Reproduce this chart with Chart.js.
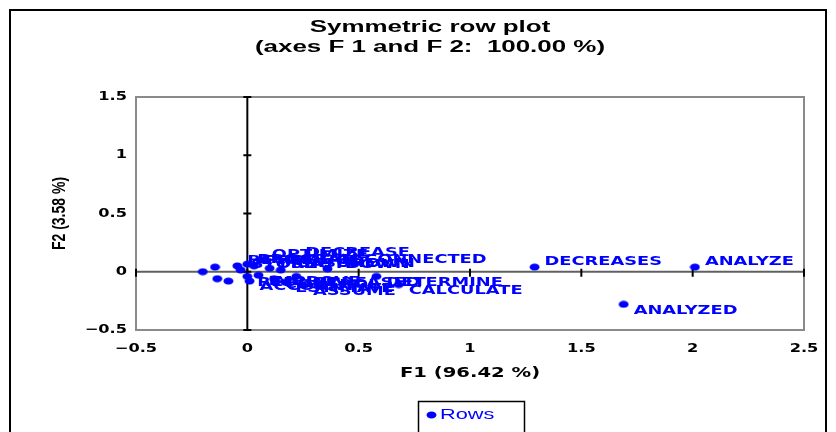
<!DOCTYPE html>
<html lang="en">
<head>
  <meta charset="UTF-8">
  <title>Symmetric row plot</title>
  <script src="https://cdn.jsdelivr.net/npm/chart.js"></script>
  <style>
    body { margin: 0; background: #fff; }
    .chart-container { width: 836px; height: 432px; }
  </style>
</head>
<body>
  <div class="chart-container">
    <canvas id="rowPlot"></canvas>
  </div>

  <script>
    // row labels and coordinates (F1, F2)
    const rowLabels = [
      'ANALYZE', 'ANALYZED', 'DECREASES', 'CALCULATE', 'DETERMINE', 'ASSUME',
      'CONNECTED', 'DECREASE', 'OPTIMIZE', 'SHUTDOWN', 'SHOWN', 'BECOME',
      'STORE', 'PROGRAM', 'REDUCE', 'ACCOUNT', 'INCREASED', 'IMPROVE',
      'PRODUCE', 'MEASURE', 'CONTROL', 'ESTIMATE', '', '', '', ''
    ];
    const f1Values = [
      2.01, 1.69, 1.29, 0.68, 0.58, 0.25,
      0.48, 0.215, 0.065, 0.15, 0.36, -0.045,
      -0.03, 0.0, 0.0, 0.01, 0.22, 0.05,
      0.03, 0.10, 0.12, 0.17, -0.20, -0.145, -0.135, -0.085
    ];
    const f2Values = [
      0.04, -0.28, 0.04, -0.11, -0.04, -0.115,
      0.065, 0.12, 0.10, 0.015, 0.025, 0.05,
      0.015, 0.065, -0.04, -0.08, -0.04, -0.03,
      0.05, 0.03, -0.06, -0.09, 0.0, 0.04, -0.06, -0.08
    ];
    const xTicks = [-0.5, 0, 0.5, 1, 1.5, 2, 2.5];
    const yTicks = [-0.5, 0, 0.5, 1, 1.5];

    const BLUE = 'rgb(0,0,255)';

    function stretchText(ctx, str, x, y, sx, align) {
      ctx.save();
      ctx.translate(x, y);
      ctx.scale(sx, 1);
      ctx.textAlign = align;
      ctx.textBaseline = 'middle';
      ctx.fillText(str, 0, 0);
      ctx.restore();
    }

    function fmt(v) {
      return v < 0 ? '\u2212' + Math.abs(v) : String(v);
    }

    // wide blue dot, like the original markers
    const dot = document.createElement('canvas');
    dot.width = 11; dot.height = 8;
    const dctx = dot.getContext('2d');
    dctx.fillStyle = BLUE;
    dctx.beginPath();
    dctx.ellipse(5.5, 4, 5, 3.5, 0, 0, Math.PI * 2);
    dctx.fill();

    const framePlugin = {
      id: 'frame',
      beforeDatasetsDraw(chart) {
        const ctx = chart.ctx;
        const a = chart.chartArea;
        const xs = chart.scales.x, ys = chart.scales.y;
        const x0 = xs.getPixelForValue(0), y0 = ys.getPixelForValue(0);
        ctx.save();
        // outer frame
        ctx.strokeStyle = '#000';
        ctx.lineWidth = 2;
        ctx.strokeRect(10, 10, 816, 440);
        // plot area border
        ctx.strokeStyle = '#8a8a8a';
        ctx.lineWidth = 2;
        ctx.strokeRect(a.left, a.top, a.right - a.left, a.bottom - a.top);
        // horizontal axis through 0
        ctx.strokeStyle = '#606060';
        ctx.beginPath();
        ctx.moveTo(a.left, y0); ctx.lineTo(a.right, y0);
        ctx.stroke();
        ctx.strokeStyle = '#000';
        xTicks.forEach(v => {
          const px = xs.getPixelForValue(v);
          ctx.beginPath();
          ctx.moveTo(px, y0 - 3); ctx.lineTo(px, y0 + 5);
          ctx.stroke();
        });
        // vertical axis through 0
        ctx.beginPath();
        ctx.moveTo(x0, a.top); ctx.lineTo(x0, a.bottom);
        ctx.stroke();
        yTicks.forEach(v => {
          const py = ys.getPixelForValue(v);
          ctx.beginPath();
          ctx.moveTo(x0 - 4, py); ctx.lineTo(x0 + 4, py);
          ctx.stroke();
        });

        // tick labels
        ctx.fillStyle = '#000';
        ctx.font = 'bold 12px "DejaVu Sans"';
        xTicks.forEach(v => stretchText(ctx, fmt(v), xs.getPixelForValue(v), 349, 1.35, 'center'));
        yTicks.forEach(v => stretchText(ctx, fmt(v), 127, ys.getPixelForValue(v), 1.35, 'right'));

        // titles
        ctx.font = 'bold 16px "Liberation Sans"';
        stretchText(ctx, 'Symmetric row plot', 430, 28, 1.62, 'center');
        stretchText(ctx, '(axes F 1 and F 2:  100.00 %)', 430, 48, 1.62, 'center');

        ctx.font = 'bold 14px "DejaVu Sans"';
        stretchText(ctx, 'F1 (96.42 %)', (a.left + a.right) / 2, 373, 1.4, 'center');

        ctx.save();
        ctx.font = 'bold 14px "Liberation Sans"';
        ctx.translate(60, (a.top + a.bottom) / 2);
        ctx.scale(1.35, 1);
        ctx.rotate(-Math.PI / 2);
        ctx.textAlign = 'center';
        ctx.textBaseline = 'middle';
        ctx.fillText('F2 (3.58 %)', 0, 0);
        ctx.restore();

        // legend
        ctx.strokeStyle = '#000';
        ctx.lineWidth = 1.5;
        ctx.strokeRect(418.5, 401.5, 106, 40);
        ctx.drawImage(dot, 426, 411);
        ctx.fillStyle = BLUE;
        ctx.font = '15px "Liberation Sans"';
        stretchText(ctx, 'Rows', 440, 415, 1.45, 'left');
        ctx.restore();
      },
      afterDatasetsDraw(chart) {
        const ctx = chart.ctx;
        const meta = chart.getDatasetMeta(0);
        ctx.save();
        ctx.fillStyle = BLUE;
        ctx.font = 'bold 13px "DejaVu Sans"';
        meta.data.forEach((pt, i) => {
          if (!rowLabels[i]) return;
          const dy = f2Values[i] >= 0 ? -5 : 6;
          stretchText(ctx, rowLabels[i], pt.x + 10, pt.y + dy, 1.37, 'left');
        });
        ctx.restore();
      }
    };

    const ctx = document.getElementById('rowPlot').getContext('2d');
    new Chart(ctx, {
      type: 'scatter',
      data: {
        datasets: [{
          label: 'Rows',
          data: f1Values.map((x, i) => ({ x: x, y: f2Values[i] })),
          pointStyle: dot,
          pointRadius: 5,
          backgroundColor: BLUE,
          borderWidth: 0
        }]
      },
      options: {
        responsive: true,
        maintainAspectRatio: false,
        animation: false,
        layout: { padding: { top: 97, right: 32, left: 0, bottom: 0 } },
        plugins: {
          legend: { display: false },
          tooltip: { enabled: false },
          title: { display: false }
        },
        scales: {
          x: {
            type: 'linear',
            min: -0.5, max: 2.5,
            ticks: { display: false, stepSize: 0.5 },
            grid: { display: false },
            border: { display: false },
            afterFit: s => { s.height = 102; }
          },
          y: {
            type: 'linear',
            min: -0.5, max: 1.5,
            ticks: { display: false, stepSize: 0.5 },
            grid: { display: false },
            border: { display: false },
            afterFit: s => { s.width = 136; }
          }
        }
      },
      plugins: [framePlugin]
    });
  </script>
</body>
</html>
